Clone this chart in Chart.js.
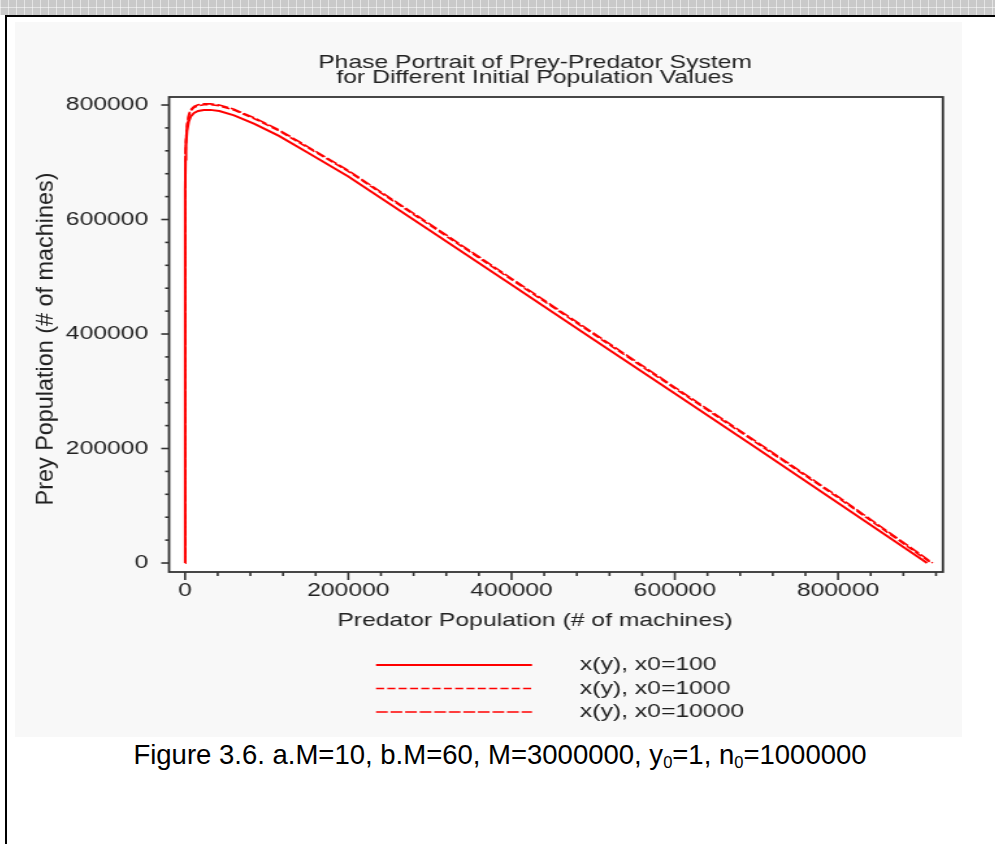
<!DOCTYPE html>
<html>
<head>
<meta charset="utf-8">
<title>Phase Portrait of Prey-Predator System</title>
<script src="https://cdn.jsdelivr.net/npm/chart.js"></script>
<style>
  html, body { margin: 0; padding: 0; background: #fff; }
  body { width: 995px; height: 844px; overflow: hidden; position: relative; font-family: "Liberation Sans", Arial, sans-serif; }
  /* bande grisee en haut de la page */
  #bande { position: absolute; left: 0; top: 0; width: 995px; height: 15px; background-color: #c9c9c9;
    background-image: linear-gradient(90deg, rgba(255,255,255,.5) 1px, transparent 1px),
                      linear-gradient(0deg, rgba(255,255,255,.5) 1px, transparent 1px);
    background-size: 8px 8px; }
  #cadre { position: absolute; left: 5px; top: 15px; width: 1000px; height: 840px; border-left: 2px solid #000; border-top: 2px solid #000; }
  #fondGraphique { position: absolute; left: 15px; top: 22px; width: 947px; height: 715px; background: #f8f8f8; }
  #chartPhase { position: absolute; left: 15px; top: 22px; }
  #legendeFigure { position: absolute; left: 0; top: 740px; width: 1000px; text-align: center; font-size: 27.5px; line-height: 30px; color: #000; }
  #legendeFigure sub { font-size: 0.6em; vertical-align: -0.25em; line-height: 0; }
</style>
</head>
<body>
<div id="bande"></div>
<div id="cadre"></div>
<div id="fondGraphique"></div>
<!-- le canvas est etire horizontalement comme l'image d'origine -->
<canvas id="chartPhase" width="800" height="715" style="width:1040px;height:715px"></canvas>
<div id="legendeFigure">Figure 3.6. a.M=10, b.M=60, M=3000000, y<sub>0</sub>=1, n<sub>0</sub>=1000000</div>

<script>
// Textes
const titreLignes = ['Phase Portrait of Prey-Predator System', 'for Different Initial Population Values'];
const titreX = 'Predator Population (# of machines)';
const titreY = 'Prey Population (# of machines)';
const nomsSeries = ['x(y), x0=100', 'x(y), x0=1000', 'x(y), x0=10000'];

// Graduations
const xMajeures = [0, 200000, 400000, 600000, 800000];
const yMajeures = [0, 200000, 400000, 600000, 800000];
const pasMineur = 40000;
const xMin = -19600, xMax = 928500;
const yMin = -15700, yMax = 814000;

// Serie x0=100 (trait plein)
const predateurs100 = [1, 20, 200, 600, 1200, 2500, 4500, 7000, 11000, 16000, 23000, 31000, 42000, 60000, 85000, 115000, 150000, 200000, 300000, 400000, 500000, 600000, 700000, 800000, 909000];
const proies100 = [100, 300000, 650000, 705000, 730000, 755000, 771000, 780000, 786000, 789500, 791300, 791500, 789500, 782000, 767000, 746000, 717000, 675000, 581000, 486000, 391000, 296000, 201000, 105000, 0];

// Serie x0=1000 (tirets)
const predateurs1000 = [1, 20, 200, 600, 1200, 2500, 4500, 7000, 11000, 16000, 23000, 31000, 42000, 60000, 85000, 115000, 150000, 200000, 300000, 400000, 500000, 600000, 700000, 800000, 914000];
const proies1000 = [1000, 320000, 665000, 716000, 741000, 765000, 781000, 790000, 795500, 798800, 800500, 800600, 798500, 791000, 776000, 755000, 726000, 684000, 590000, 495000, 400000, 305000, 210000, 114000, 0];

// Serie x0=10000 (tirets longs)
const predateurs10000 = [1, 20, 200, 600, 1200, 2500, 4500, 7000, 11000, 16000, 23000, 31000, 42000, 60000, 85000, 115000, 150000, 200000, 300000, 400000, 500000, 600000, 700000, 800000, 916000];
const proies10000 = [10000, 330000, 668000, 718000, 743000, 767000, 783000, 792000, 797500, 800500, 802000, 802000, 800000, 792500, 777500, 756500, 727500, 685500, 592000, 497000, 402000, 307000, 212000, 116000, 0];

const ETIREMENT = 1040 / 800; // largeur css / largeur du canvas

function versPoints(xs, ys) {
    return xs.map((x, i) => ({ x: x, y: ys[i] }));
}

function graduations(max, majeures) {
    const liste = [];
    for (let v = 0; v <= max; v += pasMineur) liste.push({ value: v, major: majeures.includes(v) });
    return liste;
}

// Fond blanc de la zone de trace, cadre, graduations, titre vertical et legende
const cadreEtLegende = {
    id: 'cadreEtLegende',
    beforeDraw(chart) {
        const { ctx, chartArea: zone } = chart;
        ctx.save();
        ctx.fillStyle = '#ffffff';
        ctx.fillRect(zone.left, zone.top, zone.width, zone.height);
        ctx.restore();
    },
    afterDraw(chart) {
        const { ctx, chartArea: zone, scales } = chart;
        ctx.save();
        ctx.strokeStyle = '#333';
        ctx.lineWidth = 1.6;

        scales.x.ticks.forEach(t => {
            const px = scales.x.getPixelForValue(t.value);
            const long = xMajeures.includes(t.value) ? 8 : 4;
            ctx.beginPath();
            ctx.moveTo(px, zone.bottom);
            ctx.lineTo(px, zone.bottom + long);
            ctx.stroke();
        });
        scales.y.ticks.forEach(t => {
            const py = scales.y.getPixelForValue(t.value);
            const long = yMajeures.includes(t.value) ? 6 : 3;
            ctx.beginPath();
            ctx.moveTo(zone.left, py);
            ctx.lineTo(zone.left - long, py);
            ctx.stroke();
        });

        ctx.lineWidth = 1.8;
        ctx.strokeRect(zone.left, zone.top, zone.width, zone.height);

        // titre de l'axe vertical (on annule l'etirement pour le texte tourne)
        ctx.save();
        ctx.translate(24, (zone.top + zone.bottom) / 2 + 4.5);
        ctx.scale(1 / ETIREMENT, 1);
        ctx.rotate(-Math.PI / 2);
        ctx.font = "23.4px 'Liberation Sans', Arial, sans-serif";
        ctx.fillStyle = '#222';
        ctx.textAlign = 'center';
        ctx.textBaseline = 'middle';
        ctx.fillText(titreY, 0, 0);
        ctx.restore();

        // legende : une ligne par serie
        ctx.font = "19px 'Liberation Sans', Arial, sans-serif";
        ctx.textBaseline = 'middle';
        ctx.textAlign = 'left';
        chart.data.datasets.forEach((ds, i) => {
            const yLigne = zone.bottom + 93 + i * 23.5;
            ctx.strokeStyle = ds.borderColor;
            ctx.lineWidth = ds.borderWidth;
            ctx.setLineDash(ds.borderDash || []);
            ctx.beginPath();
            ctx.moveTo(277.7, yLigne);
            ctx.lineTo(397.7, yLigne);
            ctx.stroke();
            ctx.setLineDash([]);
            ctx.fillStyle = '#222';
            ctx.fillText(ds.label, 434.6, yLigne);
        });
        ctx.restore();
    }
};

function dessinerPortraitPhase() {
    const canvas = document.getElementById('chartPhase');
    if (!canvas) {
        console.error("Le canvas n'existe pas.");
        return;
    }

    Chart.defaults.font.family = "'Liberation Sans', Arial, sans-serif";
    Chart.defaults.font.size = 19;
    Chart.defaults.color = '#222';

    const chart = new Chart(canvas, {
        type: 'scatter',
        data: {
            datasets: [{
                label: nomsSeries[0],
                data: versPoints(predateurs100, proies100),
                borderColor: '#ff0000',
                borderWidth: 2,
                borderDash: []
            }, {
                label: nomsSeries[1],
                data: versPoints(predateurs1000, proies1000),
                borderColor: '#ff0000',
                borderWidth: 1.6,
                borderDash: [6.2, 2.5]
            }, {
                label: nomsSeries[2],
                data: versPoints(predateurs10000, proies10000),
                borderColor: '#ff0000',
                borderWidth: 1.6,
                borderDash: [9, 2.2]
            }].map(ds => Object.assign(ds, { showLine: true, pointRadius: 0, tension: 0, fill: false }))
        },
        options: {
            responsive: false,
            animation: false,
            events: [],
            layout: { padding: { left: 0, right: 0, top: 0, bottom: 104.6 } },
            plugins: {
                legend: { display: false },
                tooltip: { enabled: false },
                title: {
                    display: true,
                    text: titreLignes,
                    color: '#222',
                    font: { size: 19, weight: 'normal', lineHeight: 15 / 19 },
                    padding: { top: 33, bottom: 12 }
                },
                subtitle: {
                    display: true,
                    position: 'bottom',
                    text: titreX,
                    color: '#222',
                    font: { size: 19, weight: 'normal', lineHeight: 1.2 },
                    padding: { top: 7.6, bottom: 0 }
                }
            },
            scales: {
                x: {
                    type: 'linear',
                    position: 'bottom',
                    min: xMin,
                    max: xMax,
                    grid: { display: false, drawTicks: false },
                    border: { display: false },
                    afterBuildTicks: s => { s.ticks = graduations(920000, xMajeures); },
                    afterFit: s => { s.height = 30; },
                    ticks: {
                        autoSkip: false,
                        maxRotation: 0,
                        padding: 7,
                        color: '#222',
                        callback: v => xMajeures.includes(v) ? String(v) : ''
                    }
                },
                y: {
                    type: 'linear',
                    position: 'left',
                    min: yMin,
                    max: yMax,
                    grid: { display: false, drawTicks: false },
                    border: { display: false },
                    afterBuildTicks: s => { s.ticks = graduations(800000, yMajeures); },
                    afterFit: s => { s.width = 118.5; },
                    ticks: {
                        autoSkip: false,
                        padding: 16,
                        color: '#222',
                        callback: v => yMajeures.includes(v) ? String(v) : ''
                    }
                },
                // axe vide a droite : garde le titre centre comme sur l'original
                marge: {
                    type: 'linear',
                    position: 'right',
                    grid: { display: false, drawTicks: false },
                    border: { display: false },
                    ticks: { display: false },
                    afterFit: s => { s.width = 86.2; }
                }
            }
        },
        plugins: [cadreEtLegende]
    });

    return chart;
}

dessinerPortraitPhase();
</script>
</body>
</html>
